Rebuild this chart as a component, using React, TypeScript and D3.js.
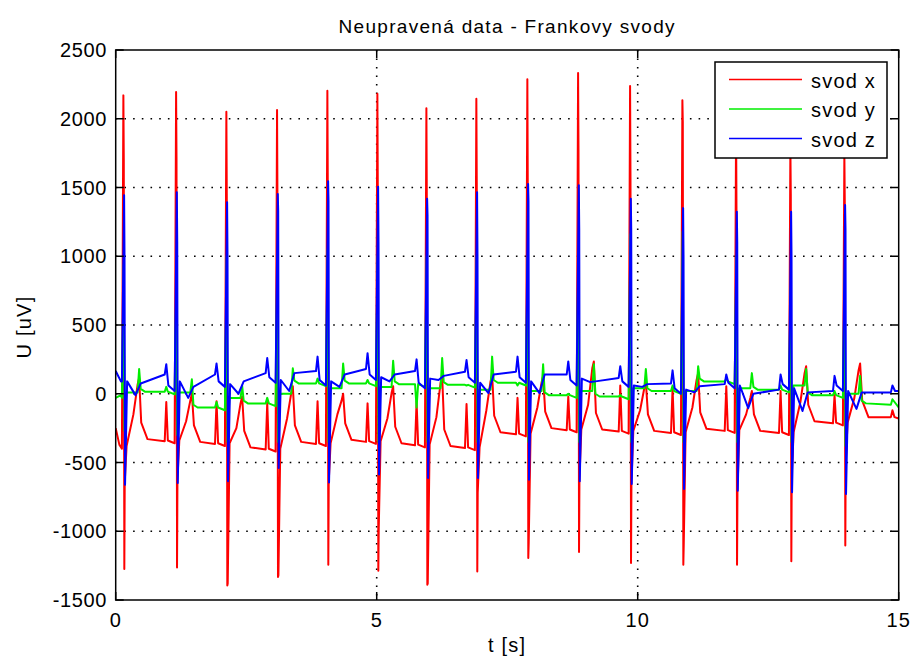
import React from "react";
import * as d3 from "d3";

// R-peak times [s] of the 15 beats
const beatTimes = [0.159, 1.169, 2.132, 3.103, 4.067, 5.025, 5.964, 6.921, 7.898, 8.87, 9.866, 10.868, 11.897, 12.937, 13.971];

// svod x (red)
const redStart = [-250, -370];
const redRTop = [2170, 2194, 2051, 2063, 2204, 2182, 2076, 2146, 2287, 2333, 2238, 2134, 1960, 1790, 1740];
const redRMid = [1700, 1720, 1450, 1400, 1540, 1500, 1420, 1535, 1530, 1772, 1571, 1978, 1300, 1450, 1400];
const redSBot = [-1275, -1263, -1394, -1333, -1243, -1287, -1389, -1292, -1195, -1151, -1231, -1243, -1243, -1219, -1103];
const redSMid = [-644, -622, -1380, -1320, -640, -977, -1380, -722, -1086, -620, -650, -1096, -710, -600, -500];
const redRamp = [-150, -200, -250, -180, -150, -180, -170, -120, -100, -80, -120, -100, -150, -60, -30];
const redT = [115, 0, -20, 55, 0, 55, 130, 140, 130, 235, 90, 150, 20, 200, 220];
const redPlateau = [-330, -350, -390, -350, -335, -360, -380, -280, -250, -260, -270, -255, -270, -200, -170];
const redP = [0, -60, -55, -65, -55, -70, -55, -75, -30, -20, 60, 40, 55, 20, -10];
const redEnd = [-170, -120, -170, -180];

// svod y (green)
const greenStart = [-30, -10];
const greenR = [940, 843, 1000, 1000, 1050, 1000, 1000, 1000, 1000, 1000, 1160, 1180, 1000, 770, 900];
const greenS = [-270, -300, -350, -350, -350, -350, -350, -350, -350, -350, -350, -350, -350, -350, -380];
const greenPost = [10, 10, -30, 0, 40, 50, 40, 30, 20, 20, 40, 20, 40, 60, 0];
const greenT = [180, 105, 60, 185, 220, 240, 260, 270, 215, 215, 180, 200, 150, 180, 130];
const greenPlat = [15, -100, -70, 75, 75, 70, 65, 80, -10, -20, 20, 90, 30, -10, -70];
const greenP = [0, 50, -60, -30, 110, 100, -100, 60, 60, 0, -10, 60, 110, 60, 20];
const greenEnd = [-80, -40, -100];

// svod z (blue)
const blueStart = [165, 90];
const blueR = [1444, 1465, 1393, 1452, 1546, 1505, 1418, 1466, 1525, 1517, 1418, 1350, 1323, 1323, 1372];
const blueRMid = [1000, 1100, 1000, 1330, 1400, 1100, 1300, 1000, 1400, 1200, 1200, 1000, 1100, 1000, 1200];
const blueS = [-661, -649, -637, -540, -645, -587, -612, -612, -625, -637, -656, -693, -705, -717, -729];
const bluePost = [90, 90, 70, 100, 90, 120, 110, 80, 90, 110, 60, 30, 60, 40, 20];
const blueDip = [-10, -30, 0, 20, 50, 90, 100, 5, 5, 85, 50, 10, -105, -125, -110];
const blueRamp = [75, 50, 90, 150, 140, 140, 130, 140, 140, 90, 70, 55, 0, 10, 10];
const bluePlat = [0, 140, 140, 150, 165, 180, 165, 160, 160, 140, 115, 75, 70, 30, 20];
const blueP = [0, 215, 220, 260, 270, 295, 250, 245, 270, 235, 200, 170, 140, 140, 130];
const blueQ = [90, 20, 50, 80, 60, 100, 40, 80, 80, 60, 50, 0, 40, 30, 20];
const blueEnd = [10, 60, 20, 20];

const xTicks = [0, 5, 10, 15];
const yTicks = [-1500, -1000, -500, 0, 500, 1000, 1500, 2000, 2500];
const seriesNames = ["svod x", "svod y", "svod z"];
const seriesColors = ["#ff0000", "#00ee00", "#0000ff"];

type Pt = [number, number];

function buildRed(): Pt[] {
  const pts: Pt[] = [[0, redStart[0]], [0.07, redStart[1]]];
  beatTimes.forEach((r, i) => {
    const before = i === 0 ? redStart[1] : redPlateau[i - 1];
    if (i > 0) {
      pts.push([r - 0.23, before - 15], [r - 0.2, redP[i]], [r - 0.17, before - 10]);
    }
    pts.push(
      [r - 0.04, before - 30],
      [r - 0.012, redRTop[i]],
      [r - 0.004, redRMid[i]],
      [r + 0.006, redSBot[i]],
      [r + 0.014, redSMid[i]],
      [r + 0.05, before - 10],
      [r + 0.18, redRamp[i]],
      [r + 0.26, redT[i] - 50],
      [r + 0.29, redT[i]],
      [r + 0.33, redPlateau[i] + 120],
      [r + 0.45, redPlateau[i]]
    );
  });
  pts.push([14.85, redEnd[0]], [14.88, redEnd[1]], [14.92, redEnd[2]], [15, redEnd[3]]);
  return pts;
}

function buildGreen(): Pt[] {
  const pts: Pt[] = [[0, greenStart[0]], [0.1, greenStart[1]]];
  beatTimes.forEach((r, i) => {
    const before = i === 0 ? greenStart[1] : greenPlat[i - 1];
    if (i > 0) {
      pts.push([r - 0.23, before], [r - 0.2, greenP[i]], [r - 0.17, before]);
    }
    pts.push(
      [r - 0.04, before - 20],
      [r - 0.006, greenR[i]],
      [r + 0.01, greenS[i]],
      [r + 0.045, greenPost[i]],
      [r + 0.26, greenPost[i]],
      [r + 0.29, greenT[i]],
      [r + 0.32, greenPlat[i] + 20],
      [r + 0.4, greenPlat[i]]
    );
  });
  pts.push([14.85, greenEnd[0]], [14.88, greenEnd[1]], [15, greenEnd[2]]);
  return pts;
}

function buildBlue(): Pt[] {
  const pts: Pt[] = [[0, blueStart[0]], [0.1, blueStart[1]]];
  beatTimes.forEach((r, i) => {
    if (i > 0) {
      pts.push([r - 0.23, bluePlat[i]], [r - 0.2, blueP[i]], [r - 0.16, blueQ[i] + 40]);
    }
    pts.push(
      [r - 0.04, blueQ[i]],
      [r + 0.002, blueR[i]],
      [r + 0.01, blueRMid[i]],
      [r + 0.02, blueS[i]],
      [r + 0.06, bluePost[i]],
      [r + 0.22, blueDip[i]],
      [r + 0.32, blueRamp[i]]
    );
  });
  pts.push([14.85, blueEnd[0]], [14.88, blueEnd[1]], [14.93, blueEnd[2]], [15, blueEnd[3]]);
  return pts;
}

export default function App() {
  const W = 910;
  const H = 657;
  const left = 115.7;
  const right = 898.7;
  const top = 50;
  const bottom = 600;

  const x = d3.scaleLinear().domain([0, 15]).range([left, right]);
  const y = d3.scaleLinear().domain([-1500, 2500]).range([bottom, top]);
  const line = d3
    .line<Pt>()
    .x((d) => x(d[0]))
    .y((d) => y(d[1]));

  const series = [buildRed(), buildGreen(), buildBlue()];
  const font = "'Liberation Sans', Arial, sans-serif";
  const tickLen = 8;

  return (
    <svg
      width={W}
      height={H}
      style={{ position: "absolute", left: 0, top: 0, background: "#fff" }}
      fontFamily={font}
    >
      <defs>
        <clipPath id="plotClip">
          <rect x={left} y={top} width={right - left} height={bottom - top} />
        </clipPath>
      </defs>
      <rect x={0} y={0} width={W} height={H} fill="#fff" />

      {/* grid */}
      {xTicks.slice(1, -1).map((t) => (
        <line key={"gx" + t} x1={x(t)} x2={x(t)} y1={top} y2={bottom} stroke="#000" strokeWidth={1.6} strokeDasharray="1.6 6.9" />
      ))}
      {yTicks.slice(1, -1).map((t) => (
        <line key={"gy" + t} x1={left} x2={right} y1={y(t)} y2={y(t)} stroke="#000" strokeWidth={1.6} strokeDasharray="1.6 7.1" />
      ))}

      {/* signals */}
      <g clipPath="url(#plotClip)">
        {series.map((pts, i) => (
          <path key={i} d={line(pts) || ""} fill="none" stroke={seriesColors[i]} strokeWidth={2} strokeLinejoin="round" />
        ))}
      </g>

      {/* axes box and ticks */}
      <rect x={left} y={top} width={right - left} height={bottom - top} fill="none" stroke="#000" strokeWidth={1.5} />
      {xTicks.map((t) => (
        <g key={"tx" + t}>
          <line x1={x(t)} x2={x(t)} y1={bottom} y2={bottom - tickLen} stroke="#000" strokeWidth={1.5} />
          <line x1={x(t)} x2={x(t)} y1={top} y2={top + tickLen} stroke="#000" strokeWidth={1.5} />
          <text x={x(t)} y={627} textAnchor="middle" fontSize={20} letterSpacing={1}>
            {t}
          </text>
        </g>
      ))}
      {yTicks.map((t) => (
        <g key={"ty" + t}>
          <line x1={left} x2={left + tickLen} y1={y(t)} y2={y(t)} stroke="#000" strokeWidth={1.5} />
          <line x1={right} x2={right - tickLen} y1={y(t)} y2={y(t)} stroke="#000" strokeWidth={1.5} />
          <text x={107} y={y(t) + 7} textAnchor="end" fontSize={20} letterSpacing={0.6}>
            {t}
          </text>
        </g>
      ))}

      {/* labels */}
      <text x={(left + right) / 2} y={33} textAnchor="middle" fontSize={19} letterSpacing={1.3}>
        Neupravená data - Frankovy svody
      </text>
      <text x={(left + right) / 2} y={652} textAnchor="middle" fontSize={20} letterSpacing={1.2}>
        t [s]
      </text>
      <text transform="translate(31,327) rotate(-90)" textAnchor="middle" fontSize={20} letterSpacing={1.2}>
        U [uV]
      </text>

      {/* legend */}
      <rect x={715} y={62} width={172} height={96} fill="#fff" stroke="#000" strokeWidth={1.5} />
      {seriesNames.map((name, i) => {
        const ly = 79.5 + i * 29.5;
        return (
          <g key={name}>
            <line x1={729} x2={802} y1={ly} y2={ly} stroke={seriesColors[i]} strokeWidth={1.6} />
            <text x={811} y={ly + 8} fontSize={20} letterSpacing={1.2}>
              {name}
            </text>
          </g>
        );
      })}
    </svg>
  );
}
